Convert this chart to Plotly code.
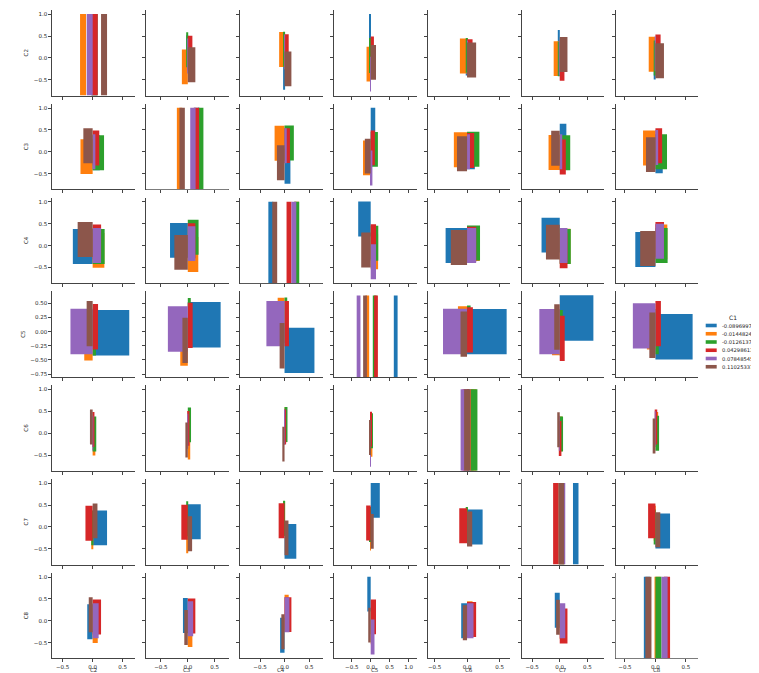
import numpy as np
import plotly.graph_objects as go

# ---------------- data ----------------
variables = ["C2", "C3", "C4", "C5", "C6", "C7", "C8"]
hue_title = "C1"
hue_levels = ["-0.0896997663", "-0.014482435", "-0.012613734",
              "0.04298613", "0.078485455", "0.110253378"]
palette = ["#1f77b4", "#ff7f0e", "#2ca02c", "#d62728", "#9467bd", "#8c564b"]

# one value per hue level, in hue order
C2 = [-0.02, -0.11, -0.02, 0.085, 0.001, 0.14]
C3 = [0.12, -0.203, 0.19, 0.11, 0.045, -0.155]
C4 = [-0.33, 0.195, 0.2, 0.141, 0.14, -0.25]
C5 = [0.61, -0.14, 0.055, 0.09, -0.37, -0.10]
C6 = [0.0, 0.045, 0.06, 0.03, 0.001, -0.045]
C7 = [0.24, -0.015, -0.02, -0.12, 0.0, 0.08]
C8 = [-0.09, 0.085, 0.0, 0.14, 0.10, -0.065]
columns = {"C2": C2, "C3": C3, "C4": C4, "C5": C5, "C6": C6, "C7": C7, "C8": C8}

bar_thickness = 0.8   # matplotlib barh default height
hist_bins = 10        # matplotlib hist default

# ---------------- layout geometry (page pixels) ----------------
PAGE_W, PAGE_H = 759, 673
OFF = 8                      # default body margin of the html page
W, H = PAGE_W - OFF, PAGE_H - OFF
X0, XSTEP, AXW = 52.3, 93.9, 82.5
Y0, YSTEP, AXH = 10.0, 93.8, 85.5
FONT = "DejaVu Sans"
SPINE = "#444444"
TXT = "#262626"


def px(xp):
    return (xp - OFF) / W


def py(yp):
    return 1 - (yp - OFF) / H


n = len(variables)


def padded(lo, hi, f=0.05):
    d = (hi - lo) * f
    return [lo - d, hi + d]


xr = {}
for v in variables:
    vals = np.array(columns[v], dtype=float)
    ext = [vals.min() - 0.5, vals.max() + 0.5, 0.0]
    for u in variables:
        if u != v:
            ext += list(columns[u])
    xr[v] = padded(min(ext), max(ext))

yr = {}
for v in variables:
    others = np.concatenate([np.array(columns[u], dtype=float) for u in variables if u != v])
    yr[v] = padded(others.min() - bar_thickness / 2, others.max() + bar_thickness / 2)

fig = go.Figure()
layout = dict(
    width=W, height=H,
    margin=dict(l=0, r=0, t=0, b=0),
    paper_bgcolor="white", plot_bgcolor="white",
    barmode="overlay", showlegend=False,
    font=dict(family=FONT, size=5.5, color=TXT),
)
annotations = []

for r, rv in enumerate(variables):
    for c, cv in enumerate(variables):
        k = r * n + c + 1
        sx = "" if k == 1 else str(k)
        xa, ya = "x" + sx, "y" + sx
        xd = [px(X0 + c * XSTEP), px(X0 + c * XSTEP + AXW)]
        yd = [py(Y0 + r * YSTEP + AXH), py(Y0 + r * YSTEP)]
        common = dict(showline=True, linecolor=SPINE, linewidth=1, ticks="outside",
                      ticklen=3, tickwidth=0.8, tickcolor=SPINE, showgrid=False,
                      zeroline=False, automargin=False,
                      tickfont=dict(family=FONT, size=5.5, color=TXT))
        xax = dict(common, domain=xd, anchor=ya, range=xr[cv], tick0=0, dtick=0.5,
                   tickformat=".1f", showticklabels=(r == n - 1))
        if r == n - 1:
            annotations.append(dict(text=cv, x=(xd[0] + xd[1]) / 2, y=py(669.6),
                                    xref="paper", yref="paper", xanchor="center",
                                    yanchor="middle", showarrow=False, borderpad=0,
                                    font=dict(family=FONT, size=5.5, color=TXT)))
        ydt, yfmt = (0.25, ".2f") if (yr[rv][1] - yr[rv][0]) < 1.6 else (0.5, ".1f")
        yax = dict(common, domain=yd, anchor=xa, range=yr[rv], tick0=0, dtick=ydt,
                   tickformat=yfmt, showticklabels=(c == 0))
        if c == 0:
            yax["title"] = dict(text=rv, standoff=4, font=dict(family=FONT, size=5.5, color=TXT))
        layout["xaxis" + sx] = xax
        layout["yaxis" + sx] = yax

        if r == c:
            # keep the cell's own (tick-carrying) subplot registered
            fig.add_trace(go.Scatter(x=[], y=[], xaxis=xa, yaxis=ya, mode="markers",
                                     hoverinfo="skip", showlegend=False))
            # diagonal: per-hue histogram on its own hidden axes over the same cell
            kd = n * n + c + 1
            layout["xaxis" + str(kd)] = dict(domain=xd, anchor="y" + str(kd), range=xr[cv],
                                            visible=False, showgrid=False, zeroline=False)
            layout["yaxis" + str(kd)] = dict(domain=yd, anchor="x" + str(kd), range=[0, 1.05],
                                            visible=False, showgrid=False, zeroline=False)
            for h in range(len(hue_levels)):
                counts, edges = np.histogram(np.array([columns[cv][h]], dtype=float), bins=hist_bins)
                centers = (edges[:-1] + edges[1:]) / 2
                fig.add_trace(go.Bar(
                    x=centers, y=counts, width=np.diff(edges),
                    marker=dict(color=palette[h], line=dict(width=0)),
                    xaxis="x" + str(kd), yaxis="y" + str(kd), hoverinfo="skip",
                    name=hue_levels[h]))
        else:
            # off-diagonal: horizontal bars centred on the column variable,
            # running from 0 to the row variable
            for h in range(len(hue_levels)):
                fig.add_trace(go.Bar(
                    x=[columns[rv][h]], y=[columns[cv][h]], base=[0],
                    width=[bar_thickness], orientation="h",
                    marker=dict(color=palette[h], line=dict(width=0)),
                    xaxis=xa, yaxis=ya, hoverinfo="skip", name=hue_levels[h]))

# ---------------- legend (matplotlib style) ----------------
annotations.append(dict(text=hue_title, x=px(733.3), y=py(317.3), xref="paper", yref="paper",
                        xanchor="center", yanchor="middle", showarrow=False,
                        font=dict(family=FONT, size=6, color=TXT)))
shapes = []
for i, lab in enumerate(hue_levels):
    yc = 325.5 + i * 8.25
    shapes.append(dict(type="rect", xref="paper", yref="paper",
                       x0=px(705.7), x1=px(716.7), y0=py(yc + 1.8), y1=py(yc - 1.8),
                       fillcolor=palette[i], line=dict(width=0)))
    annotations.append(dict(text=lab, x=px(720.5), y=py(yc), xref="paper", yref="paper",
                            xanchor="left", yanchor="middle", showarrow=False, borderpad=0,
                            font=dict(family=FONT, size=5.2, color=TXT)))

layout["annotations"] = annotations
layout["shapes"] = shapes

fig.update_layout(**layout)
fig.write_html("out.html")
